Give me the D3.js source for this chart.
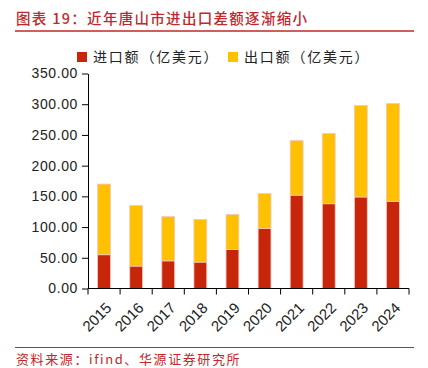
<!DOCTYPE html>
<html><head><meta charset="utf-8">
<script src="https://cdn.jsdelivr.net/npm/d3@7/dist/d3.min.js"></script>
<style>
body{margin:0;background:#fff;}
svg{display:block;}
</style></head>
<body>
<svg id="chart" width="428" height="368"></svg>
<script>
const years = ["2015","2016","2017","2018","2019","2020","2021","2022","2023","2024"];
const imports = [55, 36.5, 45, 43, 63.5, 97.5, 152, 138, 149, 142];
const exports = [115, 98.5, 72, 69.5, 57, 57, 89, 114.5, 149, 159];
const yTicks = [0, 50, 100, 150, 200, 250, 300, 350];
const seriesNames = ["进口额（亿美元）", "出口额（亿美元）"];
const colors = ["#C8260A", "#FFC000"];
const titleText = "图表 19：近年唐山市进出口差额逐渐缩小";
const sourceText = "资料来源：ifind、华源证券研究所";

const svg = d3.select("#chart");
const cjk = "'Noto Sans CJK SC', 'Noto Sans', sans-serif";
const red = "#C0282D";

// title
svg.append("text").attr("x", 16).attr("y", 24)
  .attr("font-family", cjk).attr("font-size", 14.5).attr("font-weight", 500)
  .attr("letter-spacing", 1.3)
  .attr("fill", red).text(titleText);
svg.append("line").attr("x1", 15).attr("x2", 414).attr("y1", 31).attr("y2", 31)
  .attr("stroke", red).attr("stroke-width", 1.5);

const x = d3.scaleBand().domain(years).range([88, 409]).paddingInner(0.6).paddingOuter(0.3);
const y = d3.scaleLinear().domain([0, 350]).range([288.5, 73.5]);

// bars
const stacked = years.map((yr, i) => ({ yr, imp: imports[i], exp: exports[i] }));
const g = svg.append("g");
g.selectAll(".imp").data(stacked).join("rect")
  .attr("x", d => x(d.yr)).attr("width", x.bandwidth())
  .attr("y", d => y(d.imp)).attr("height", d => y(0) - y(d.imp))
  .attr("fill", colors[0]).attr("stroke", "#F6C6BE").attr("stroke-width", 0.8);
g.selectAll(".exp").data(stacked).join("rect")
  .attr("x", d => x(d.yr)).attr("width", x.bandwidth())
  .attr("y", d => y(d.imp + d.exp)).attr("height", d => y(d.imp) - y(d.imp + d.exp))
  .attr("fill", colors[1]).attr("stroke", "#F6C6BE").attr("stroke-width", 0.8);

// y axis
const yAxis = d3.axisLeft(y).tickValues(yTicks).tickSize(6).tickSizeOuter(0)
  .tickFormat(d => d3.format(".2f")(d));
const yg = svg.append("g").attr("transform", "translate(88,0)").call(yAxis);
yg.select(".domain").attr("stroke", "#000");
yg.selectAll(".tick line").attr("stroke", "#000");
yg.selectAll(".tick text").attr("font-family", "'Liberation Sans', Arial, sans-serif")
  .attr("font-size", 14).attr("fill", "#222").attr("x", -10).attr("letter-spacing", 0.6);

// x axis
const xg = svg.append("g").attr("transform", `translate(0,${y(0)})`);
xg.append("line").attr("x1", 88).attr("x2", 409).attr("y1", 0).attr("y2", 0).attr("stroke", "#000");
const bounds = d3.range(years.length + 1).map(i => 88 + (409 - 88) * i / years.length);
xg.selectAll(".xt").data(bounds).join("line")
  .attr("x1", d => d).attr("x2", d => d).attr("y1", 0).attr("y2", 6).attr("stroke", "#000");
xg.selectAll(".xl").data(years).join("text")
  .attr("transform", d => `translate(${x(d) + x.bandwidth() / 2 + 1},${13}) rotate(-45)`)
  .attr("text-anchor", "end").attr("dy", "0.7em")
  .attr("font-family", "'Liberation Sans', Arial, sans-serif").attr("font-size", 15)
  .attr("fill", "#222").text(d => d);

// legend
const legX = [77, 228];
seriesNames.forEach((n, i) => {
  svg.append("rect").attr("x", legX[i]).attr("y", 52).attr("width", 10).attr("height", 10).attr("fill", colors[i]);
  svg.append("text").attr("x", legX[i] + 16).attr("y", 62)
    .attr("font-family", cjk).attr("font-size", 14).attr("letter-spacing", 1.8)
    .attr("fill", "#222").text(n);
});

// source
svg.append("line").attr("x1", 15).attr("x2", 414).attr("y1", 347.5).attr("y2", 347.5)
  .attr("stroke", red).attr("stroke-width", 1.2);
svg.append("text").attr("x", 16).attr("y", 364)
  .attr("font-family", cjk).attr("font-size", 13).attr("letter-spacing", 1.6)
  .attr("fill", red).text(sourceText);
</script>
</body></html>
